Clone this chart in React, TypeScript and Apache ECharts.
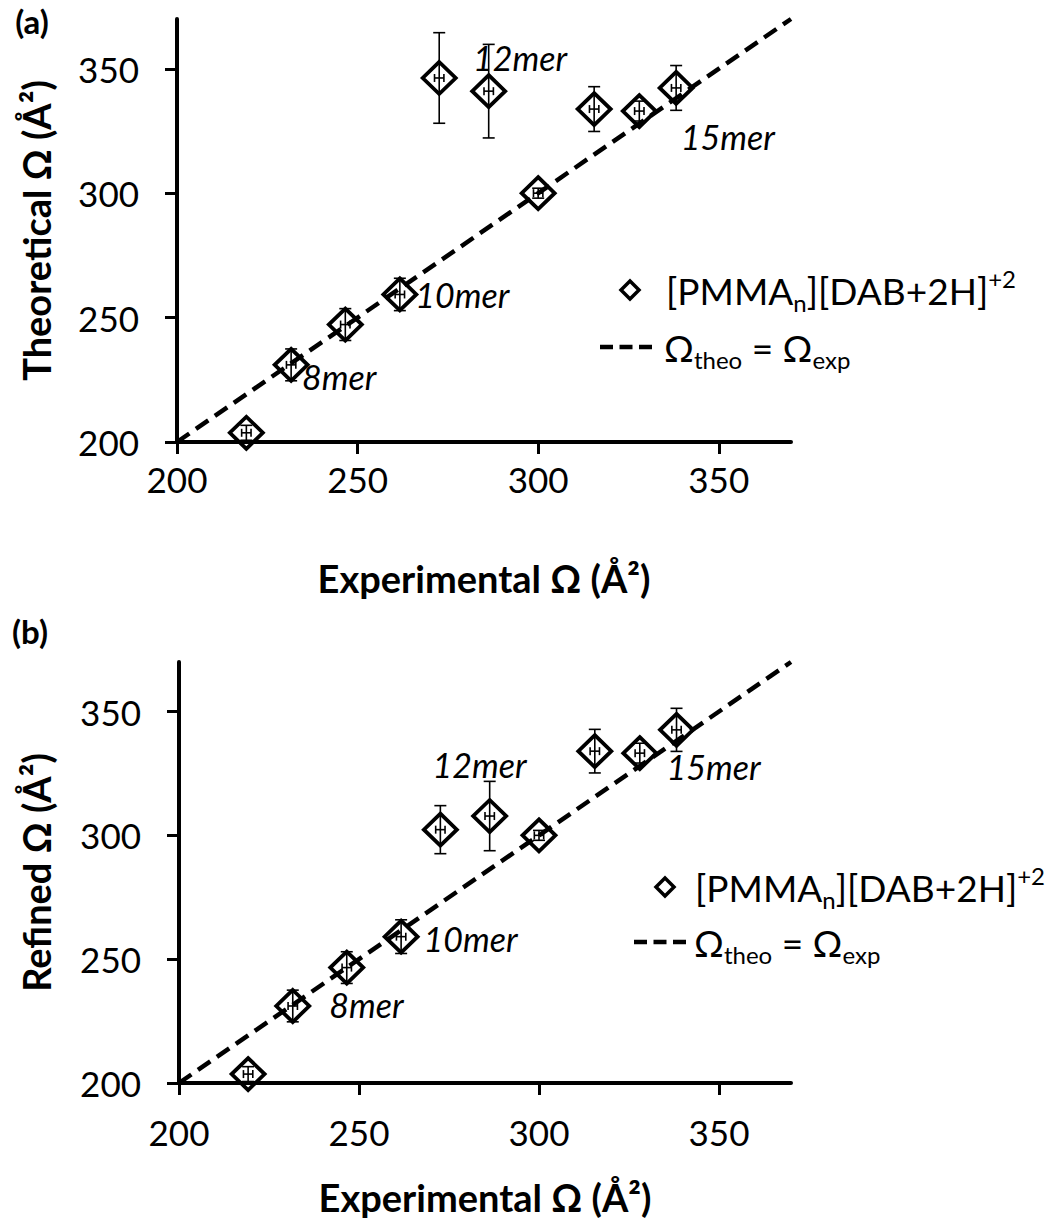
import React, { useEffect, useRef } from "react";
import * as echarts from "echarts";

// ---- data ----
const expX = [219.2, 231.6, 246.6, 261.7, 272.6, 286.3, 315.5, 328.0, 338.2, 300.0];
const expErr = [1.3, 1.3, 1.3, 1.3, 1.3, 1.3, 1.3, 1.3, 1.3, 1.3];
const theoY = [203.7, 231.0, 247.2, 259.3, 346.3, 341.0, 333.8, 333.0, 342.3, 300.0];
const theoErr = [3.0, 6.4, 6.4, 6.5, 18.2, 18.8, 9.0, 4.0, 9.0, 2.0];
const refinedY = [203.6, 231.1, 246.6, 259.1, 302.3, 307.8, 334.0, 333.2, 342.6, 300.0];
const refinedErr = [3.0, 6.4, 6.4, 6.8, 9.7, 14.0, 8.8, 4.0, 8.7, 2.0];
const identityLine = [
  [200, 200],
  [370, 370],
];
const merLabels = ["8mer", "10mer", "12mer", "15mer"];
const merPosA = [
  [244.9, 226.5],
  [279.0, 259.4],
  [295.0, 354.5],
  [352.5, 322.9],
];
const merPosB = [
  [252.1, 231.5],
  [281.0, 258.5],
  [283.5, 328.6],
  [348.5, 327.8],
];
const tickValues = [200, 250, 300, 350];
const axisMin = 200;
const axisMax = 370;
const xTitle = "Experimental Ω (Å²)";
const yTitleA = "Theoretical Ω (Å²)";
const yTitleB = "Refined Ω (Å²)";
const legendSeriesText = "[PMMA{sub|n}][DAB+2H]{sup|+2}";
const legendLineText = "Ω{sub|theo} = Ω{sub|exp}";

const FONT = "Lato, 'Open Sans', sans-serif";

function axis(gridIndex: number, name: string, isY: boolean, nameGap: number, labelMargin: number) {
  return {
    type: "value",
    gridIndex,
    min: axisMin,
    max: axisMax,
    interval: 50,
    name,
    nameLocation: "middle",
    nameGap,
    nameRotate: isY ? 90 : 0,
    nameTextStyle: { fontFamily: FONT, fontWeight: "bold", fontSize: 38, color: "#000" },
    axisLine: { show: true, onZero: false, lineStyle: { color: "#000", width: 4 } },
    axisTick: {
      show: true,
      inside: false,
      length: 12,
      customValues: tickValues,
      lineStyle: { color: "#000", width: 3 },
    },
    axisLabel: {
      show: true,
      customValues: tickValues,
      fontFamily: FONT,
      fontSize: 35,
      color: "#000",
      margin: labelMargin,
    },
    splitLine: { show: false },
  };
}

function errorSeries(gridIndex: number, ys: number[], errs: number[]) {
  return {
    type: "custom",
    xAxisIndex: gridIndex,
    yAxisIndex: gridIndex,
    clip: false,
    silent: true,
    encode: { x: 0, y: 1 },
    data: expX.map((x, i) => [x, ys[i], errs[i], expErr[i]]),
    renderItem: (params: any, api: any) => {
      const x = api.value(0);
      const y = api.value(1);
      const ey = api.value(2);
      const ex = api.value(3);
      const c = api.coord([x, y]);
      const t = api.coord([x, y + ey]);
      const b = api.coord([x, y - ey]);
      const l = api.coord([x - ex, y]);
      const r = api.coord([x + ex, y]);
      const st = { stroke: "#000", lineWidth: 1.6 };
      const cap = 6;
      const hcap = 4;
      return {
        type: "group",
        children: [
          { type: "line", shape: { x1: c[0], y1: t[1], x2: c[0], y2: b[1] }, style: st },
          { type: "line", shape: { x1: c[0] - cap, y1: t[1], x2: c[0] + cap, y2: t[1] }, style: st },
          { type: "line", shape: { x1: c[0] - cap, y1: b[1], x2: c[0] + cap, y2: b[1] }, style: st },
          { type: "line", shape: { x1: l[0], y1: c[1], x2: r[0], y2: c[1] }, style: st },
          { type: "line", shape: { x1: l[0], y1: c[1] - hcap, x2: l[0], y2: c[1] + hcap }, style: st },
          { type: "line", shape: { x1: r[0], y1: c[1] - hcap, x2: r[0], y2: c[1] + hcap }, style: st },
        ],
      };
    },
  };
}

function markerSeries(gridIndex: number, ys: number[]) {
  return {
    type: "scatter",
    xAxisIndex: gridIndex,
    yAxisIndex: gridIndex,
    silent: true,
    symbol: "diamond",
    symbolSize: [33, 32],
    itemStyle: { color: "rgba(0,0,0,0)", borderColor: "#000", borderWidth: 3.8, opacity: 1 },
    data: expX.map((x, i) => [x, ys[i]]),
    z: 3,
  };
}

function lineSeries(gridIndex: number) {
  return {
    type: "line",
    xAxisIndex: gridIndex,
    yAxisIndex: gridIndex,
    silent: true,
    symbol: "none",
    data: identityLine,
    lineStyle: { color: "#000", width: 4.5, type: [15, 8], opacity: 1 },
    z: 4,
  };
}

function labelSeries(gridIndex: number, pos: number[][]) {
  return {
    type: "scatter",
    xAxisIndex: gridIndex,
    yAxisIndex: gridIndex,
    silent: true,
    symbolSize: 0,
    itemStyle: { opacity: 1 },
    data: pos.map((p, i) => ({ name: merLabels[i], value: p })),
    label: {
      show: true,
      position: "inside",
      formatter: "{b}",
      fontFamily: FONT,
      fontStyle: "italic",
      fontSize: 34,
      color: "#000",
      opacity: 1,
    },
    z: 5,
  };
}

const richStyles = {
  sub: { fontFamily: FONT, fontSize: 24, lineHeight: 24, verticalAlign: "bottom", fill: "#000" },
  sup: { fontFamily: FONT, fontSize: 24, lineHeight: 24, verticalAlign: "top", fill: "#000" },
};

function legend(dx: number, dy: number, tx: number, lx: number, ly: number, ltx: number) {
  return [
    {
      type: "polygon",
      shape: {
        points: [
          [dx, dy - 9],
          [dx + 9, dy],
          [dx, dy + 9],
          [dx - 9, dy],
        ],
      },
      style: { fill: "none", stroke: "#000", lineWidth: 3.5 },
    },
    {
      type: "text",
      x: tx,
      y: dy,
      style: {
        text: legendSeriesText,
        fontFamily: FONT,
        fontSize: 37,
        lineHeight: 48,
        fill: "#000",
        verticalAlign: "middle",
        rich: richStyles,
      },
    },
    {
      type: "line",
      shape: { x1: lx, y1: ly, x2: lx + 52, y2: ly },
      style: { stroke: "#000", lineWidth: 4.5, lineDash: [13, 6.5] },
    },
    {
      type: "text",
      x: ltx,
      y: ly,
      style: {
        text: legendLineText,
        fontFamily: FONT,
        fontSize: 37,
        lineHeight: 48,
        fill: "#000",
        verticalAlign: "middle",
        rich: richStyles,
      },
    },
  ];
}

export default function App() {
  const ref = useRef<HTMLDivElement>(null);
  useEffect(() => {
    if (!ref.current) return;
    const chart = echarts.init(ref.current, undefined, { renderer: "svg" });
    chart.setOption({
      animation: false,
      backgroundColor: "#fff",
      grid: [
        { left: 177, top: 19, width: 614, height: 423 },
        { left: 179, top: 662, width: 612, height: 421 },
      ],
      xAxis: [axis(0, xTitle, false, 117, 19), axis(1, xTitle, false, 95, 31)],
      yAxis: [axis(0, yTitleA, true, 122, 38), axis(1, yTitleB, true, 124, 38)],
      series: [
        errorSeries(0, theoY, theoErr),
        markerSeries(0, theoY),
        lineSeries(0),
        labelSeries(0, merPosA),
        errorSeries(1, refinedY, refinedErr),
        markerSeries(1, refinedY),
        lineSeries(1),
        labelSeries(1, merPosB),
      ],
      graphic: [
        {
          type: "text",
          x: 32,
          y: 21,
          style: {
            text: "(a)",
            fontFamily: FONT,
            fontWeight: "bold",
            fontSize: 33,
            fill: "#000",
            align: "center",
            verticalAlign: "middle",
          },
        },
        {
          type: "text",
          x: 30,
          y: 631,
          style: {
            text: "(b)",
            fontFamily: FONT,
            fontWeight: "bold",
            fontSize: 33,
            fill: "#000",
            align: "center",
            verticalAlign: "middle",
          },
        },
        ...legend(630, 290, 666, 600, 347, 664),
        ...legend(665, 887, 695, 634, 942, 694),
      ],
    });
    return () => chart.dispose();
  }, []);
  return (
    <div
      ref={ref}
      style={{ position: "absolute", left: 0, top: 0, width: 1060, height: 1229, background: "#fff" }}
    />
  );
}
